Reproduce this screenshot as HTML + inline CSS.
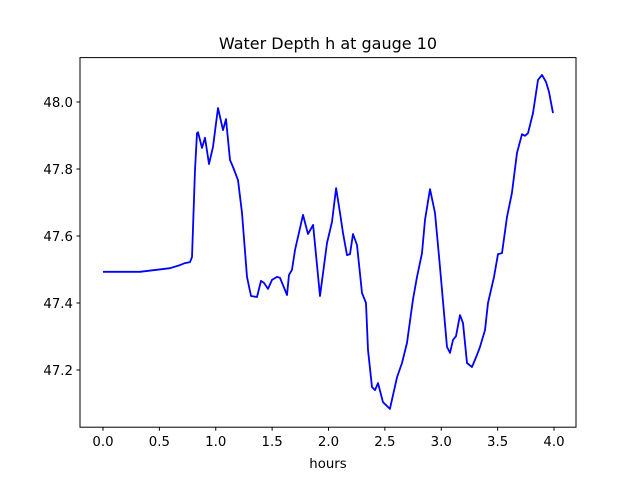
<!DOCTYPE html>
<html><head><meta charset="utf-8"><style>
body{margin:0;background:#fff;}
svg text{font-family:"DejaVu Sans","Liberation Sans",sans-serif;fill:#000;}
</style></head><body>
<svg id="chart" width="640" height="480" xmlns="http://www.w3.org/2000/svg">
<rect width="640" height="480" fill="#fff"/>
<text x="328" y="49" font-size="16" text-anchor="middle">Water Depth h at gauge 10</text>
<text x="328" y="468" font-size="13.3" text-anchor="middle">hours</text>
<g id="ticks"></g>
<polyline id="series" fill="none" stroke="#0000ff" stroke-width="1.8" stroke-linejoin="round"/>
<rect x="80" y="57.6" width="496" height="369.6" fill="none" stroke="#000" stroke-width="1"/>
</svg>
<script>
const hours=[0,0.328,0.594,0.683,0.727,0.772,0.789,0.816,0.834,0.843,0.878,0.905,0.940,0.976,1.020,1.064,1.091,1.126,1.153,1.197,1.233,1.277,1.313,1.366,1.401,1.428,1.463,1.499,1.543,1.570,1.596,1.632,1.650,1.676,1.703,1.774,1.818,1.863,1.925,1.987,2.031,2.067,2.102,2.129,2.164,2.191,2.217,2.253,2.297,2.333,2.350,2.386,2.412,2.439,2.483,2.545,2.608,2.652,2.696,2.749,2.785,2.829,2.856,2.900,2.945,2.989,3.051,3.078,3.104,3.131,3.166,3.193,3.228,3.273,3.317,3.344,3.388,3.415,3.468,3.503,3.539,3.583,3.627,3.672,3.716,3.743,3.769,3.814,3.858,3.894,3.929,3.956,3.991];
const depth=[47.493,47.493,47.504,47.513,47.519,47.522,47.537,47.797,47.907,47.910,47.863,47.893,47.815,47.866,47.982,47.916,47.949,47.827,47.806,47.767,47.669,47.478,47.421,47.418,47.466,47.460,47.442,47.469,47.478,47.475,47.454,47.424,47.484,47.499,47.558,47.663,47.606,47.633,47.421,47.579,47.642,47.743,47.669,47.609,47.543,47.546,47.606,47.573,47.430,47.400,47.260,47.149,47.140,47.161,47.104,47.084,47.179,47.221,47.281,47.409,47.478,47.549,47.648,47.740,47.669,47.507,47.269,47.251,47.290,47.301,47.364,47.340,47.221,47.209,47.245,47.269,47.319,47.400,47.478,47.546,47.549,47.657,47.728,47.848,47.904,47.899,47.907,47.967,48.066,48.081,48.060,48.030,47.967];
const xTicks=[0,0.5,1,1.5,2,2.5,3,3.5,4];
const xTickLabels=["0.0","0.5","1.0","1.5","2.0","2.5","3.0","3.5","4.0"];
const yTicks=[47.2,47.4,47.6,47.8,48.0];
const yTickLabels=["47.2","47.4","47.6","47.8","48.0"];
const X=v=>103+v*112.75;
const Y=v=>102-(v-48)*335;
const NS="http://www.w3.org/2000/svg";
const g=document.getElementById('ticks');
function mk(tag,attrs){const e=document.createElementNS(NS,tag);for(const k in attrs)e.setAttribute(k,attrs[k]);return e;}
xTicks.forEach((t,i)=>{
  const l=mk('line',{x1:X(t),x2:X(t),y1:427.2,y2:430.7,stroke:'#000'});
  
  
  g.appendChild(l);
  const tx=mk('text',{x:X(t),y:446,'font-size':'13.3','text-anchor':'middle'});
  
  
  tx.textContent=xTickLabels[i];g.appendChild(tx);
});
yTicks.forEach((t,i)=>{
  const l=mk('line',{x1:76.5,x2:80,y1:Y(t),y2:Y(t),stroke:'#000'});
  
  
  g.appendChild(l);
  const tx=mk('text',{x:73,y:Y(t)+5,'font-size':'13.3','text-anchor':'end'});
  
  
  tx.textContent=yTickLabels[i];g.appendChild(tx);
});
document.getElementById('series').setAttribute('points',hours.map((h,i)=>X(h).toFixed(1)+','+Y(depth[i]).toFixed(1)).join(' '));
</script>
</body></html>
